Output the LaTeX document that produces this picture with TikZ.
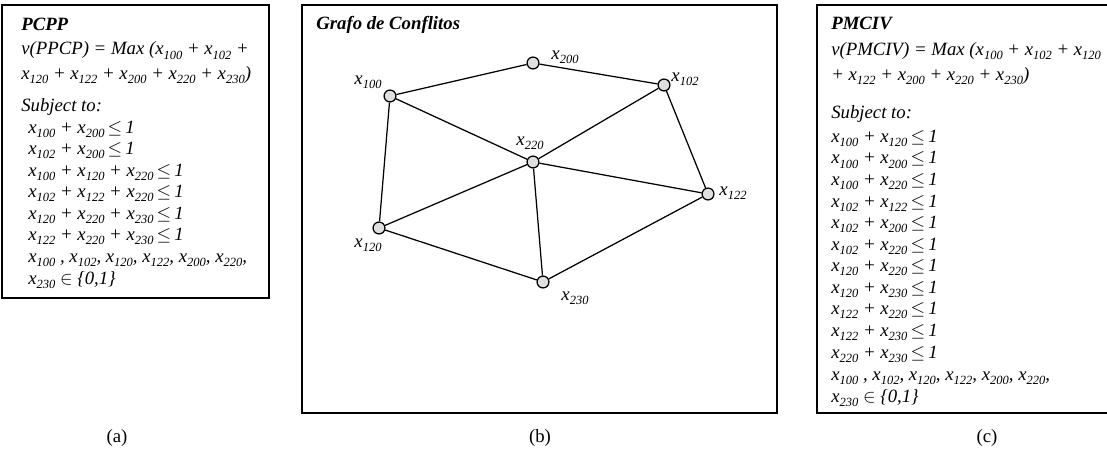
\documentclass[tikz,border=0pt]{standalone}
\usepackage{fontspec}
\setmainfont{Liberation Serif}
\newcommand{\xv}[1]{\textit{x}\raisebox{-2.6pt}{\fontsize{8}{9}\selectfont\itshape #1}}
\newcommand{\leqone}{\,$\leq$\,\textit{1}}

\begin{document}
\begin{tikzpicture}[x=0.64pt,y=-0.64pt,
 panel/.style={draw,line width=1pt},
 txt/.style={font=\fontsize{12}{13.8}\selectfont\itshape,align=left,inner sep=0pt,anchor=north west},
 vtx/.style={circle,draw,fill=gray!25,minimum size=7.6pt,inner sep=0pt,line width=.8pt},
 lbl/.style={font=\fontsize{12}{13.8}\selectfont,inner sep=0pt},
 subcap/.style={font=\fontsize{12}{14}\selectfont}]
\useasboundingbox (0,0) rectangle (1107,459);
% panels
\draw[panel] (2,5) rectangle (269,298);
\draw[panel] (302,5) rectangle (777,413);
\draw[panel] (817,5) rectangle (1112,413);

% (a) PCPP
\node[txt] (pcpp) at (21,17.7) {\textbf{PCPP}\\[1.9pt]
v(PPCP) = Max (\xv{100} + \xv{102} +\\[1.9pt]
\xv{120} + \xv{122} + \xv{200} + \xv{220} + \xv{230})\\[6.7pt]
Subject to:\\
\hspace*{4.5pt}\xv{100} + \xv{200}\leqone\\
\hspace*{4.5pt}\xv{102} + \xv{200}\leqone\\
\hspace*{4.5pt}\xv{100} + \xv{120} + \xv{220}\leqone\\
\hspace*{4.5pt}\xv{102} + \xv{122} + \xv{220}\leqone\\
\hspace*{4.5pt}\xv{120} + \xv{220} + \xv{230}\leqone\\
\hspace*{4.5pt}\xv{122} + \xv{220} + \xv{230}\leqone\\
\hspace*{4.5pt}\xv{100} , \xv{102}, \xv{120}, \xv{122}, \xv{200}, \xv{220},\\
\hspace*{4.5pt}\xv{230} $\in$ \{0,1\}};

% (b) graph
\node[txt,anchor=base west] (grafo) at (316,30) {\textbf{Grafo de Conflitos}};
\node[vtx] (v200) at (533,63) {};
\node[vtx] (v100) at (390,96) {};
\node[vtx] (v102) at (664,85) {};
\node[vtx] (v220) at (533,162) {};
\node[vtx] (v122) at (708,194) {};
\node[vtx] (v120) at (379,228) {};
\node[vtx] (v230) at (543,282) {};
\foreach \a/\b in {v100/v200,v200/v102,v100/v220,v100/v120,v102/v220,v102/v122,
 v220/v122,v220/v120,v220/v230,v120/v230,v122/v230}
 \draw[line width=.8pt] (\a)--(\b);
\node[lbl] (l200) at (565,57) {\xv{200}};
\node[lbl] (l100) at (368,82) {\xv{100}};
\node[lbl] (l102) at (685,79) {\xv{102}};
\node[lbl] (l220) at (530,143) {\xv{220}};
\node[lbl] (l122) at (733,193) {\xv{122}};
\node[lbl] (l120) at (368,245) {\xv{120}};
\node[lbl] (l230) at (575,298) {\xv{230}};

% (c) PMCIV
\node[txt] (pmciv) at (831,16.7) {\textbf{PMCIV}\\[2.8pt]
v(PMCIV) = Max (\xv{100} + \xv{102} + \xv{120}\\[2.2pt]
+ \xv{122} + \xv{200} + \xv{220} + \xv{230})\\[10.5pt]
Subject to:\\[1.6pt]
\xv{100} + \xv{120}\leqone\\
\xv{100} + \xv{200}\leqone\\
\xv{100} + \xv{220}\leqone\\
\xv{102} + \xv{122}\leqone\\
\xv{102} + \xv{200}\leqone\\
\xv{102} + \xv{220}\leqone\\
\xv{120} + \xv{220}\leqone\\
\xv{120} + \xv{230}\leqone\\
\xv{122} + \xv{220}\leqone\\
\xv{122} + \xv{230}\leqone\\
\xv{220} + \xv{230}\leqone\\[0.4pt]
\xv{100} , \xv{102}, \xv{120}, \xv{122}, \xv{200}, \xv{220},\\[0.4pt]
\xv{230} $\in$ \{0,1\}};

% captions
\node[subcap] (capa) at (117,438) {(a)};
\node[subcap] (capb) at (540,438) {(b)};
\node[subcap] (capc) at (987,438) {(c)};
\end{tikzpicture}
\end{document}
